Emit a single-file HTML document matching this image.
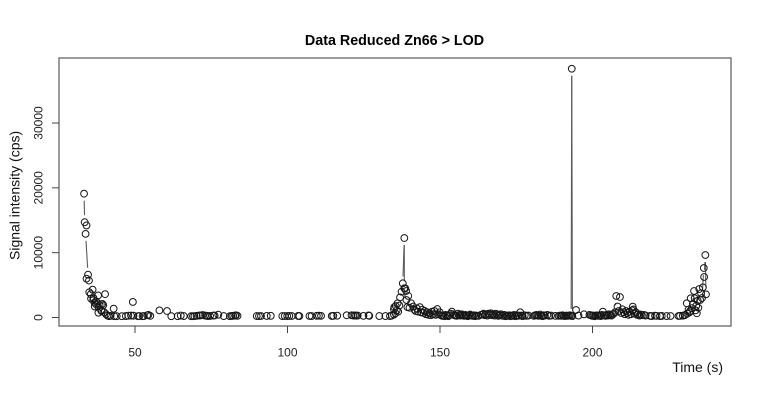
<!DOCTYPE html>
<html lang="en">
<head>
<meta charset="utf-8">
<title>Data Reduced Zn66 &gt; LOD</title>
<style>
html,body{margin:0;padding:0;background:#fff;}
svg{display:block;font-family:"Liberation Sans",Arial,sans-serif;}
</style>
</head>
<body>
<svg id="chart" xmlns="http://www.w3.org/2000/svg" width="760" height="400" viewBox="0 0 760 400">
  <rect x="0" y="0" width="760" height="400" fill="#fff"/>
  <g id="lines" stroke="#5a5a5a" stroke-width="1.1" fill="none"></g>
  <g id="points" stroke="#161616" stroke-width="1" fill="none"></g>
  <rect x="59" y="58" width="672" height="268" fill="none" stroke="#666" stroke-width="1.3"/>
  <g id="xaxis"></g>
  <g id="yaxis"></g>
  <text x="394.5" y="45" text-anchor="middle" font-size="14.3" font-weight="bold" fill="#000">Data Reduced Zn66 &gt; LOD</text>
  <text x="723" y="372" text-anchor="end" font-size="14" fill="#111">Time (s)</text>
  <text transform="translate(19.5,260) rotate(-90)" font-size="14" fill="#111">Signal intensity (cps)</text>
</svg>
<script>
const xTicks = [50, 100, 150, 200];
const yTicks = [0, 10000, 20000, 30000];
const timeSeconds = [
33.3,33.5,34.1,33.8,34.6,34.1,34.9,35.0,36.1,35.5,
36.4,35.6,36.3,37.9,37.2,36.8,37.3,37.8,38.1,36.7,
39.0,38.4,38.0,39.3,39.6,39.0,40.2,39.9,40.5,41.0,
41.5,42.0,43.0,43.2,44.0,45.7,47.0,47.8,48.7,49.3,
49.5,51.0,51.4,52.5,52.9,54.0,54.4,55.0,58.0,60.5,
61.9,64.0,65.0,66.0,68.4,69.0,69.5,70.2,71.0,71.5,
72.2,73.0,73.5,73.9,74.6,75.7,76.1,77.3,79.1,81.1,
81.7,82.2,82.8,83.1,83.6,89.9,90.65,91.3,93.2,94.5,
98.3,99.1,99.9,100.6,101.4,103.5,103.9,107.2,107.9,109.6,
110.3,111.0,114.5,115.0,116.3,119.4,121.0,121.6,122.1,122.5,
123.0,124.9,126.6,126.8,130.1,132.1,133.6,134.2,134.9,135.4,
134.9,135.5,136.1,136.7,135.0,135.8,136.3,136.9,137.4,137.8,
138.3,138.3,138.9,138.6,139.6,139.0,140.5,139.3,140.0,141.2,
141.6,142.0,142.4,142.8,143.4,143.8,144.2,144.6,145.0,145.4,
145.8,146.2,146.6,147.0,147.4,147.8,148.2,148.6,149.1,149.5,
149.9,150.3,150.7,151.1,151.5,151.9,152.3,152.7,153.1,153.5,
153.9,154.3,154.7,155.1,155.5,155.9,156.3,156.7,157.1,157.5,
157.9,158.3,158.7,159.1,159.5,159.9,160.3,160.7,161.1,161.5,
161.9,162.6,163.4,163.9,164.3,164.7,165.1,165.5,165.9,166.3,
166.7,167.1,167.5,167.9,168.3,168.7,169.1,169.5,169.9,170.3,
170.7,171.1,171.5,171.9,172.3,172.7,173.1,173.5,173.9,174.3,
174.7,175.1,175.5,175.9,176.3,176.7,177.1,177.8,178.4,179.0,
180.8,181.2,181.6,182.0,182.4,182.8,183.2,183.6,184.0,184.4,
185.2,185.8,186.4,187.8,188.9,189.4,189.8,190.2,190.6,191.0,
191.4,191.8,192.2,192.6,193.0,193.2,193.4,194.6,195.4,197.2,
199.0,199.5,199.9,200.3,200.7,201.1,201.5,201.9,202.3,202.7,
203.1,203.4,203.8,204.2,204.6,205.0,205.4,205.8,206.2,206.6,
207.0,207.4,207.8,208.2,208.6,209.0,209.4,209.8,210.2,210.6,
211.0,211.4,211.8,212.2,212.6,213.0,213.2,213.4,213.8,214.2,
214.6,215.0,215.4,215.8,216.2,216.9,217.4,218.9,219.4,220.5,
221.0,222.1,222.7,224.3,225.6,228.2,228.7,229.6,230.2,230.4,
230.9,231.1,231.5,231.8,232.2,232.0,232.9,232.6,233.3,233.5,
233.8,234.2,234.0,234.7,234.5,235.3,235.0,235.6,236.2,235.9,
236.5,236.6,237.0,237.2
];
const signalCps = [
19100,14700,14200,12900,6600,6000,5700,3900,4300,3600,
3000,2900,2700,3400,2500,1700,2000,2200,1500,2300,
1100,1900,740,2100,1900,1000,3600,800,500,300,
200,250,1360,200,200,200,220,280,300,2400,
280,200,220,200,220,350,400,250,1100,1000,
200,200,300,220,200,200,210,260,300,330,
380,300,260,220,240,300,310,430,220,200,
240,260,300,350,260,220,210,230,240,260,
220,230,220,240,230,240,220,230,220,260,
280,250,230,260,280,340,350,300,330,280,
300,250,320,260,220,220,220,300,450,650,
1260,1770,2190,1850,1600,1100,900,3100,3980,5270,
12260,4500,4090,4500,3320,2700,2200,1600,1500,1700,
1200,1000,1400,900,1600,800,1200,700,1000,500,
800,400,650,350,900,500,1000,400,1300,500,
800,350,250,300,200,400,300,200,350,600,
900,500,350,300,250,600,400,300,500,350,
250,400,300,200,350,450,300,250,350,200,
300,250,400,450,600,350,500,300,600,400,
650,350,500,300,600,400,250,350,500,300,
250,400,200,300,250,350,200,300,250,400,
200,350,250,300,800,300,200,350,250,300,
250,350,400,300,250,450,300,200,350,300,
400,250,300,250,250,300,250,350,250,220,
300,250,280,350,250,38370,220,1160,300,490,
400,350,250,300,200,280,350,250,300,220,
400,900,350,250,400,300,500,350,300,450,
600,800,3320,1700,1000,3160,700,1260,800,500,
1000,700,400,900,500,1100,1670,1250,600,800,
400,500,300,450,350,400,300,250,220,280,
250,220,240,220,230,230,260,280,350,400,
2190,600,1200,800,2960,1000,2100,1450,4090,2960,
1100,650,1800,1500,2600,2700,4390,3730,4650,3000,
7630,6250,9640,3570
];

const xOf = t => 135 + (t - 50) * 3.05;
const yOf = v => 317.5 - v * 0.006483;
const NS = 'http://www.w3.org/2000/svg';
const GAP = 7;
const RADIUS = 3.4;

function mk(tag, attrs, parent) {
  const el = document.createElementNS(NS, tag);
  Object.keys(attrs).forEach(k => el.setAttribute(k, attrs[k]));
  parent.appendChild(el);
  return el;
}

const linesG = document.getElementById('lines');
const pointsG = document.getElementById('points');
const count = Math.min(timeSeconds.length, signalCps.length);

for (let i = 0; i < count - 1; i++) {
  const x1 = xOf(timeSeconds[i]), y1 = yOf(signalCps[i]);
  const x2 = xOf(timeSeconds[i + 1]), y2 = yOf(signalCps[i + 1]);
  const d = Math.hypot(x2 - x1, y2 - y1);
  if (d > 2 * GAP && Math.abs(y2 - y1) > 2 * GAP) {
    const ux = (x2 - x1) / d, uy = (y2 - y1) / d;
    const seg = mk('line', {x1: x1 + ux * GAP, y1: y1 + uy * GAP, x2: x2 - ux * GAP, y2: y2 - uy * GAP}, linesG);
    
    
  }
}

for (let i = 0; i < count; i++) {
  const c = mk('circle', {cx: xOf(timeSeconds[i]), cy: yOf(signalCps[i]), r: RADIUS}, pointsG);
  
  
}

const xAxisG = document.getElementById('xaxis');
xTicks.forEach(v => {
  const tick = mk('line', {x1: xOf(v), x2: xOf(v), y1: 326, y2: 333, stroke: '#444', 'stroke-width': 1}, xAxisG);
  
  
  const label = mk('text', {x: xOf(v), y: 356.5, 'text-anchor': 'middle', 'font-size': 12, fill: '#222'}, xAxisG);
  
  
  label.textContent = String(v);
});

const yAxisG = document.getElementById('yaxis');
yTicks.forEach(v => {
  const tick = mk('line', {x1: 52, x2: 59, y1: yOf(v), y2: yOf(v), stroke: '#444', 'stroke-width': 1}, yAxisG);
  
  
  const label = mk('text', {transform: 'translate(42.5,' + yOf(v) + ') rotate(-90)', 'text-anchor': 'middle', 'font-size': 12, fill: '#222'}, yAxisG);
  
  
  label.textContent = String(v);
});
</script>
</body>
</html>
